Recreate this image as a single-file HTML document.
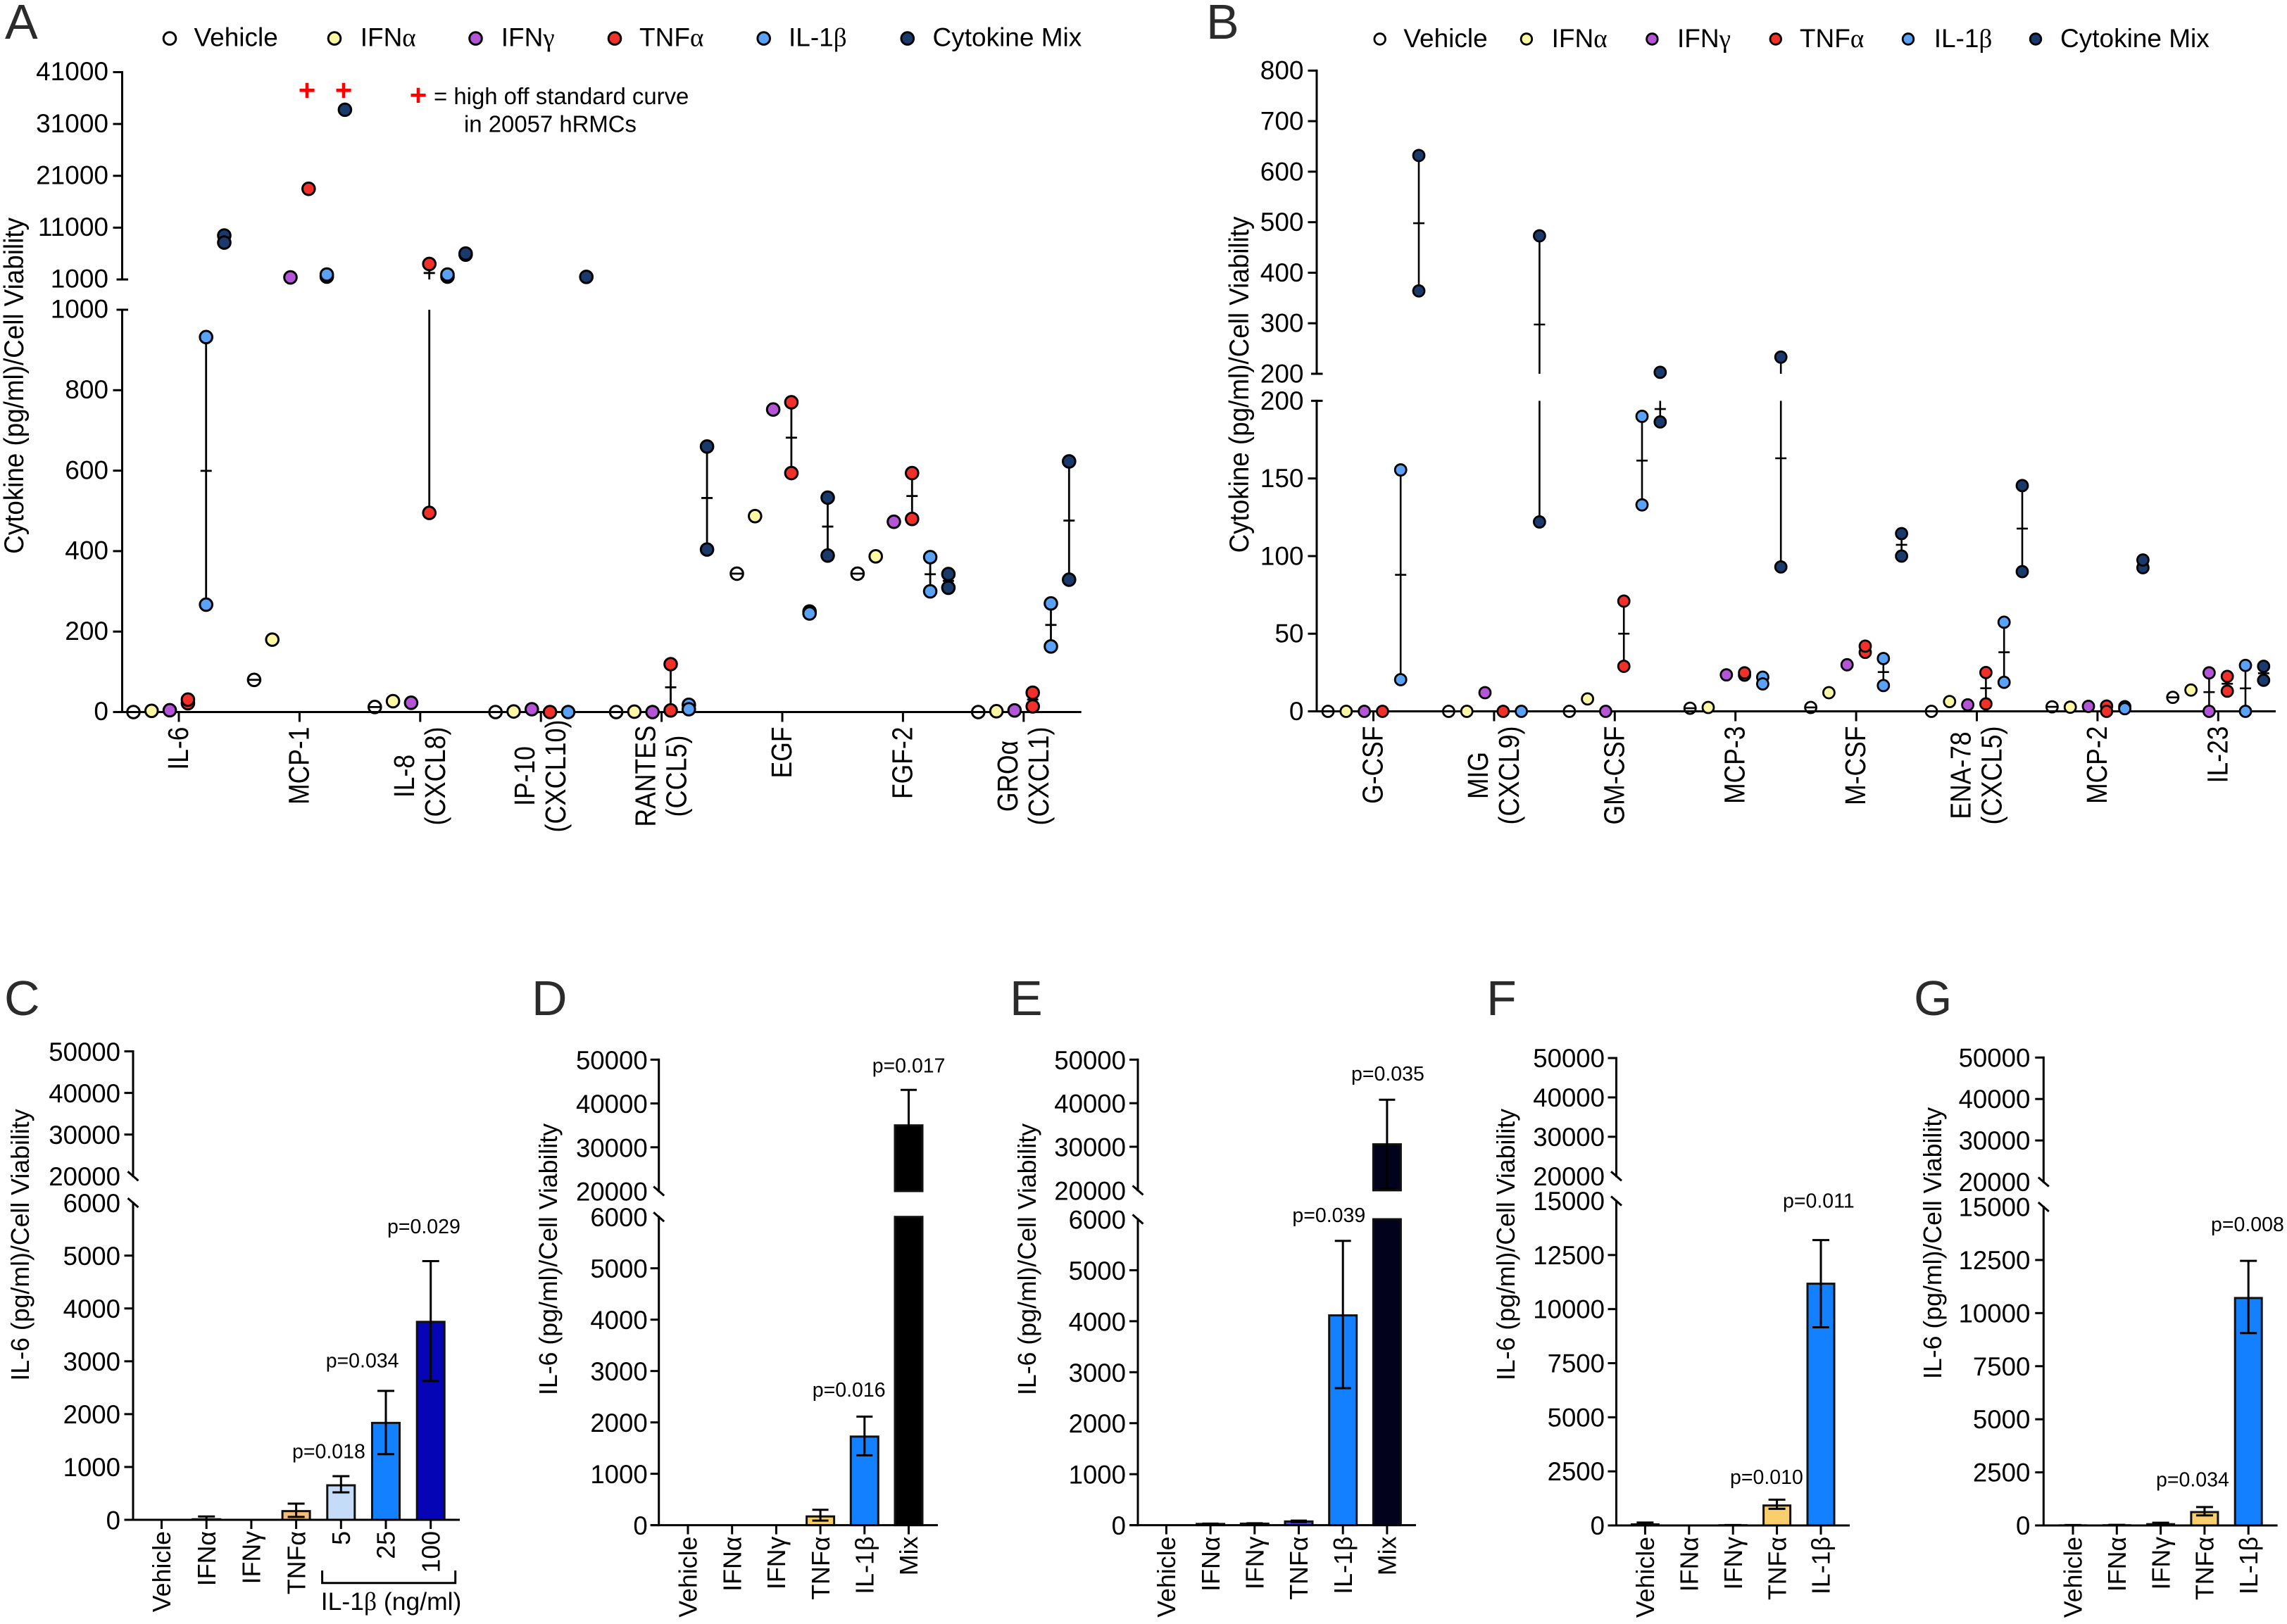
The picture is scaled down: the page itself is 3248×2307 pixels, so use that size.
<!DOCTYPE html>
<html lang="en">
<head>
<meta charset="utf-8">
<title>Cytokine secretion panels A-G</title>
<style>
html,body{margin:0;padding:0;background:#fff;}
svg{display:block;font-family:"Liberation Sans",sans-serif;fill:#000;}
.letter{font-size:70px;fill:#2b2b2b;}
.leg{font-size:37px;}
.ser{font-family:"Liberation Serif",serif;}
.ytitle{font-size:36.8px;text-anchor:middle;}
.ytitle2{font-size:35.7px;text-anchor:middle;}
.pval{font-size:28.5px;}
.note{font-size:32.9px;}
.plus{font-size:42px;font-weight:bold;fill:#f00;text-anchor:middle;}
</style>
</head>
<body>
<svg id="figure" xmlns="http://www.w3.org/2000/svg" width="3248" height="2307" viewBox="0 0 3248 2307">
<rect x="0" y="0" width="3248" height="2307" fill="#fff"/>

<text class="letter" x="7" y="55">A</text>
<text class="letter" x="1713" y="55">B</text>
<text class="letter" x="6" y="1442">C</text>
<text class="letter" x="755" y="1442">D</text>
<text class="letter" x="1434" y="1442">E</text>
<text class="letter" x="2111" y="1442">F</text>
<text class="letter" x="2718" y="1442">G</text>

<g>
  <circle cx="241" cy="54.6" r="8.8" fill="none" stroke="#000" stroke-width="3"/>
  <text class="leg" x="275.5" y="65.5">Vehicle</text>
  <circle cx="475" cy="54.6" r="8.8" fill="#fdf8a4" stroke="#000" stroke-width="3"/>
  <text class="leg" x="511.7" y="65.5">IFN<tspan class="ser">α</tspan></text>
  <circle cx="675.5" cy="54.6" r="8.8" fill="#b455d8" stroke="#000" stroke-width="3"/>
  <text class="leg" x="711.7" y="65.5">IFN<tspan class="ser">γ</tspan></text>
  <circle cx="873" cy="54.6" r="8.8" fill="#f2302a" stroke="#000" stroke-width="3"/>
  <text class="leg" x="908" y="65.5">TNF<tspan class="ser">α</tspan></text>
  <circle cx="1084.7" cy="54.6" r="8.8" fill="#5aa2f8" stroke="#000" stroke-width="3"/>
  <text class="leg" x="1120" y="65.5">IL-1<tspan class="ser">β</tspan></text>
  <circle cx="1288.8" cy="54.6" r="8.8" fill="#1a3a6b" stroke="#000" stroke-width="3"/>
  <text class="leg" x="1324.5" y="65.5">Cytokine Mix</text>
</g>

<g>
  <circle cx="1959.7" cy="55.5" r="7.8" fill="none" stroke="#000" stroke-width="2.8"/>
  <text class="leg" x="1993.4" y="67">Vehicle</text>
  <circle cx="2167.9" cy="55.5" r="7.8" fill="#fdf8a4" stroke="#000" stroke-width="2.8"/>
  <text class="leg" x="2203.6" y="67">IFN<tspan class="ser">α</tspan></text>
  <circle cx="2346.4" cy="55.5" r="7.8" fill="#b455d8" stroke="#000" stroke-width="2.8"/>
  <text class="leg" x="2382" y="67">IFN<tspan class="ser">γ</tspan></text>
  <circle cx="2521.8" cy="55.5" r="7.8" fill="#f2302a" stroke="#000" stroke-width="2.8"/>
  <text class="leg" x="2555.9" y="67">TNF<tspan class="ser">α</tspan></text>
  <circle cx="2710" cy="55.5" r="7.8" fill="#5aa2f8" stroke="#000" stroke-width="2.8"/>
  <text class="leg" x="2746.7" y="67">IL-1<tspan class="ser">β</tspan></text>
  <circle cx="2891" cy="55.5" r="7.8" fill="#1a3a6b" stroke="#000" stroke-width="2.8"/>
  <text class="leg" x="2926" y="67">Cytokine Mix</text>
</g>

<text class="ytitle" transform="translate(33,548) rotate(-90) scale(1,1.06)">Cytokine (pg/ml)/Cell Viability</text>
<text class="ytitle" transform="translate(1773,546.5) rotate(-90) scale(1,1.06)">Cytokine (pg/ml)/Cell Viability</text>
<text class="ytitle2" transform="translate(41,1768.5) rotate(-90)">IL-6 (pg/ml)/Cell Viability</text>
<text class="ytitle2" transform="translate(791,1789) rotate(-90)">IL-6 (pg/ml)/Cell Viability</text>
<text class="ytitle2" transform="translate(1471,1789) rotate(-90)">IL-6 (pg/ml)/Cell Viability</text>
<text class="ytitle2" transform="translate(2151,1768) rotate(-90)">IL-6 (pg/ml)/Cell Viability</text>
<text class="ytitle2" transform="translate(2757,1766) rotate(-90)">IL-6 (pg/ml)/Cell Viability</text>

<g id="panel-a"></g>
<g id="panel-b"></g>
<g id="panel-c"></g>
<g id="panel-d"></g>
<g id="panel-e"></g>
<g id="panel-f"></g>
<g id="panel-g"></g>

<g>
  <text class="plus" x="436" y="142.5">+</text>
  <text class="plus" x="488" y="142.5">+</text>
  <text class="plus" x="594" y="149.5">+</text>
  <text class="note" x="616" y="148">= high off standard curve</text>
  <text class="note" x="659" y="187.5">in 20057 hRMCs</text>
</g>

<g>
  <text class="pval" x="415" y="2071.5">p=0.018</text>
  <text class="pval" x="462.7" y="1942.6">p=0.034</text>
  <text class="pval" x="550" y="1752">p=0.029</text>
  <text class="pval" x="1238.7" y="1523.6">p=0.017</text>
  <text class="pval" x="1153.8" y="1984">p=0.016</text>
  <text class="pval" x="1919" y="1535">p=0.035</text>
  <text class="pval" x="1835.4" y="1736">p=0.039</text>
  <text class="pval" x="2532" y="1715.7">p=0.011</text>
  <text class="pval" x="2457" y="2108">p=0.010</text>
  <text class="pval" x="3140" y="1749">p=0.008</text>
  <text class="pval" x="3062" y="2111.6">p=0.034</text>
</g>

<path d="M457.6 2231 V2248.8 H646.7 V2231" fill="none" stroke="#000" stroke-width="3"/>
<text x="455.8" y="2287" font-size="35.5">IL-1<tspan class="ser">β</tspan> (ng/ml)</text>

<script>
/* ---------- Panel A data: replicates per cytokine, one array per treatment ---------- */
const panelACategories = [['IL-6'], ['MCP-1'], ['IL-8', '(CXCL8)'], ['IP-10', '(CXCL10)'], ['RANTES', '(CCL5)'], ['EGF'], ['FGF-2'], ['GROα', '(CXCL1)']];
const panelALowTicks = [0, 200, 400, 600, 800, 1000];
const panelAHighTicks = [1000, 11000, 21000, 31000, 41000];
const panelAVehicle = [[0], [80], [12.5], [0], [0], [344], [344], [0]];
const panelAIfnAlpha = [[3], [180], [27], [1.5], [1], [487], [387], [2]];
const panelAIfnGamma = [[4.4], [1400], [23], [7], [0], [752], [473], [4]];
const panelATnfAlpha = [[22, 31], [18500], [495, 4000], [0], [4, 119], [594, 770], [480, 594], [14, 48]];
const panelAIl1Beta = [[267, 932], [1550, 1950], [1550, 1950], [0], [18, 7], [250, 245], [300, 385], [163, 270]];
const panelAMix = [[9478, 8120], [33750], [5800, 6000], [1500], [404, 660], [389, 533], [309, 343], [329, 623]];

/* ---------- Panel B data ---------- */
const panelBCategories = [['G-CSF'], ['MIG', '(CXCL9)'], ['GM-CSF'], ['MCP-3'], ['M-CSF'], ['ENA-78', '(CXCL5)'], ['MCP-2'], ['IL-23']];
const panelBLowTicks = [0, 50, 100, 150, 200];
const panelBHighTicks = [200, 300, 400, 500, 600, 700, 800];
const panelBVehicle = [[0], [0], [0], [2], [2.5], [0], [2.9], [9]];
const panelBIfnAlpha = [[0], [0], [8], [2.5], [12], [6.3], [2.7], [13.7]];
const panelBIfnGamma = [[0], [12], [0], [23.5], [30], [4.2], [3.2], [0, 24.8]];
const panelBTnfAlpha = [[0], [0], [29, 71], [23.3, 24.8], [38, 42], [4.8, 25], [3.4, 0], [13, 22.5]];
const panelBIl1Beta = [[20.4, 155.5], [0], [133, 190], [22, 17.7], [16.6, 34], [18.7, 57.4], [3, 1.7], [0, 29.6]];
const panelBMix = [[364, 632], [122, 473], [186.4, 203], [93, 233], [100, 114.5], [90, 145.4], [92.5, 97.5], [20, 29]];

/* ---------- Panel C data ---------- */
const panelCCategories = ['Vehicle', 'IFNα', 'IFNγ', 'TNFα', '5', '25', '100'];
const panelCMeans = [0, 10, 0, 165, 653, 1834, 3746];
const panelCErrUpper = [0, 63, 0, 307, 826, 2440, 4895];
const panelCErrLower = [0, 0, 0, 55, 519, 1243, 2628];
const panelCLowTicks = [0, 1000, 2000, 3000, 4000, 5000, 6000];
const panelCHighTicks = [20000, 30000, 40000, 50000];

/* ---------- Panel D data ---------- */
const panelDCategories = ['Vehicle', 'IFNα', 'IFNγ', 'TNFα', 'IL-1β', 'Mix'];
const panelDMeans = [0, 0, 0, 170, 1724, 35000];
const panelDErrUpper = [0, 0, 0, 300, 2113, 43100];
const panelDErrLower = [0, 0, 0, 89, 1360, 27000];
const panelDLowTicks = [0, 1000, 2000, 3000, 4000, 5000, 6000];
const panelDHighTicks = [20000, 30000, 40000, 50000];

/* ---------- Panel E data ---------- */
const panelECategories = ['Vehicle', 'IFNα', 'IFNγ', 'TNFα', 'IL-1β', 'Mix'];
const panelEMeans = [0, 24, 30, 73, 4114, 30560];
const panelEErrUpper = [0, 30, 38, 90, 5575, 40800];
const panelEErrLower = [0, 20, 24, 60, 2686, 20400];
const panelELowTicks = [0, 1000, 2000, 3000, 4000, 5000, 6000];
const panelEHighTicks = [20000, 30000, 40000, 50000];

/* ---------- Panel F data ---------- */
const panelFCategories = ['Vehicle', 'IFNα', 'IFNγ', 'TNFα', 'IL-1β'];
const panelFMeans = [50, 0, 10, 922, 11174];
const panelFErrUpper = [134, 0, 20, 1190, 13190];
const panelFErrLower = [0, 0, 0, 768, 9158];
const panelFLowTicks = [0, 2500, 5000, 7500, 10000, 12500, 15000];
const panelFHighTicks = [20000, 30000, 40000, 50000];

/* ---------- Panel G data ---------- */
const panelGCategories = ['Vehicle', 'IFNα', 'IFNγ', 'TNFα', 'IL-1β'];
const panelGMeans = [5, 10, 60, 629, 10710];
const panelGErrUpper = [20, 30, 130, 865, 12458];
const panelGErrLower = [0, 0, 10, 472, 9059];
const panelGLowTicks = [0, 2500, 5000, 7500, 10000, 12500, 15000];
const panelGHighTicks = [20000, 30000, 40000, 50000];

/* ---------- Styling and axis calibration (kept apart from the data) ---------- */
const treatmentNames = ['vehicle', 'ifn-alpha', 'ifn-gamma', 'tnf-alpha', 'il-1-beta', 'cytokine-mix'];
const treatmentFills = ['none', '#fdf8a4', '#b455d8', '#f2302a', '#5aa2f8', '#1a3a6b'];
const panelCFills = ['#fff', '#f3bd7b', '#fff', '#f3bd7b', '#c5dcf8', '#1380ff', '#0505b5'];
const panelDFills = ['#fff', '#fff', '#fff', '#f8cf63', '#1380ff', '#000'];
const panelEFills = ['#fff', '#4a4ae6', '#4a4ae6', '#4a4ae6', '#1380ff', '#02021c'];
const panelFFills = ['#fff', '#fff', '#fff', '#f9cf6e', '#1380ff'];
const panelGFills = ['#fff', '#fff', '#fff', '#f9cf6e', '#1380ff'];

const layoutA = {prefix: 'a', axisX: 173.5, xEnd: 1535.7, tickLen: 13, labelGap: 19.5, labelDy: 11.7, lineW: 3,
  low: {v0: 0, y0: 1011.5, v1: 1000, y1: 440}, high: {v0: 1000, y0: 397, v1: 41000, y1: 102.5},
  firstX: 254, stepX: 171.4, seriesStep: 25.8, r: 8.8, markerW: 3, capHalf: 8, errW: 2.8, tickFont: 37};
const layoutB = {prefix: 'b', axisX: 1870, xEnd: 3232, tickLen: 12.5, labelGap: 18.5, labelDy: 12.4, lineW: 3,
  low: {v0: 0, y0: 1010.5, v1: 200, y1: 569.4}, high: {v0: 200, y0: 531, v1: 800, y1: 100.3},
  firstX: 1950.5, stepX: 171.4, seriesStep: 25.8, r: 8, markerW: 2.8, capHalf: 8, errW: 2.6, tickFont: 37};
const layoutC = {prefix: 'c', axisX: 189, xEnd: 653, tickLen: 12.5, labelGap: 18, labelDy: 13.3, lineW: 3,
  low: {v0: 0, y0: 2159, v1: 6000, y1: 1708.6}, high: {v0: 20000, y0: 1670.8, v1: 50000, y1: 1493.5},
  firstX: 229.5, stepX: 63.7, barHalf: 19.5, capHalf: 12, tickFont: 36.6};
const layoutD = {prefix: 'd', axisX: 935.7, xEnd: 1332, tickLen: 12, labelGap: 16, labelDy: 13.5, lineW: 3,
  low: {v0: 0, y0: 2166.6, v1: 6000, y1: 1728.7}, high: {v0: 20000, y0: 1692, v1: 50000, y1: 1505.3},
  firstX: 977, stepX: 62.7, barHalf: 19.5, capHalf: 11.5, tickFont: 36.6};
const layoutE = {prefix: 'e', axisX: 1616, xEnd: 2011, tickLen: 12, labelGap: 17, labelDy: 13.5, lineW: 3,
  low: {v0: 0, y0: 2166.6, v1: 6000, y1: 1732}, high: {v0: 20000, y0: 1690.9, v1: 50000, y1: 1505.3},
  firstX: 1656.4, stepX: 62.7, barHalf: 19.5, capHalf: 11.5, tickFont: 36.6};
const layoutF = {prefix: 'f', axisX: 2295.5, xEnd: 2627, tickLen: 12, labelGap: 16.5, labelDy: 13, lineW: 3,
  low: {v0: 0, y0: 2167, v1: 15000, y1: 1706}, high: {v0: 20000, y0: 1670.8, v1: 50000, y1: 1503},
  firstX: 2336.4, stepX: 62.4, barHalf: 19, capHalf: 12, tickFont: 36.6};
const layoutG = {prefix: 'g', axisX: 2902.3, xEnd: 3234.6, tickLen: 12, labelGap: 19, labelDy: 13, lineW: 3,
  low: {v0: 0, y0: 2167, v1: 15000, y1: 1714.5}, high: {v0: 20000, y0: 1679, v1: 50000, y1: 1502.3},
  firstX: 2944, stepX: 62.3, barHalf: 19, capHalf: 12, tickFont: 36.6};

/* ---------- Low-level SVG helpers ---------- */
const SVG_NS = 'http://www.w3.org/2000/svg';
function make(tag, parent, attrs) {
  const el = document.createElementNS(SVG_NS, tag);
  for (const key of Object.keys(attrs)) el.setAttribute(key, attrs[key]);
  parent.appendChild(el);
  return el;
}
function drawLine(parent, name, x1, y1, x2, y2, width) {
  const el = make('line', parent, {x1: x1, y1: y1, x2: x2, y2: y2, stroke: '#000', 'stroke-width': width});
  
  
  return el;
}
function drawLabel(parent, name, x, y, content, size, anchor) {
  const el = make('text', parent, {x: x, y: y, 'font-size': size, 'text-anchor': anchor});
  el.textContent = content;
  
  
  return el;
}
function drawRotatedLabel(parent, name, x, y, content, size, anchor, cross) {
  const el = make('text', parent, {
    'font-size': size, 'text-anchor': anchor,
    transform: 'translate(' + x + ',' + y + ') rotate(-90) scale(1,' + cross + ')'
  });
  el.textContent = content;
  
  
  return el;
}

/* ---------- Axis functions ---------- */
function lerp(cal, v) {
  return cal.y0 + (v - cal.v0) * (cal.y1 - cal.y0) / (cal.v1 - cal.v0);
}
function makeYScale(layout) {
  return function (v) {
    return v <= layout.low.v1 ? lerp(layout.low, v) : lerp(layout.high, v);
  };
}
function categoryX(layout, i) {
  return layout.firstX + i * layout.stepX;
}
function seriesX(layout, i, s) {
  return categoryX(layout, i) + (s - 2.5) * layout.seriesStep;
}
function drawYAxis(g, layout, lowTicks, highTicks, breakStyle) {
  const y = makeYScale(layout);
  const x = layout.axisX;
  const p = layout.prefix;
  drawLine(g, 'y-axis-lower-' + p, x, layout.low.y0 + 1.5, x, layout.low.y1 - 1.5, layout.lineW);
  drawLine(g, 'y-axis-upper-' + p, x, layout.high.y0 + 1.5, x, layout.high.y1 - 1.5, layout.lineW);
  lowTicks.forEach(function (t) {
    const ty = lerp(layout.low, t);
    const isBreak = t === layout.low.v1;
    if (isBreak && breakStyle === 'flat') {
      drawLine(g, 'y-tick-' + p + '-lower-' + t, x - 8, ty, x + 8.5, ty, layout.lineW);
    } else if (isBreak) {
      drawLine(g, 'axis-break-mark-lower-' + p, x - 7.5, ty - 6.5, x + 7.5, ty + 6.5, layout.lineW);
    } else {
      drawLine(g, 'y-tick-' + p + '-lower-' + t, x - layout.tickLen, ty, x, ty, layout.lineW);
    }
    drawLabel(g, 'y-tick-label-' + p + '-lower-' + t, x - layout.labelGap, ty + layout.labelDy, String(t), layout.tickFont, 'end');
  });
  highTicks.forEach(function (t) {
    const ty = lerp(layout.high, t);
    const isBreak = t === layout.high.v0;
    if (isBreak && breakStyle === 'flat') {
      drawLine(g, 'y-tick-' + p + '-upper-' + t, x - 8, ty, x + 8.5, ty, layout.lineW);
    } else if (isBreak) {
      drawLine(g, 'axis-break-mark-upper-' + p, x - 7.5, ty - 6.5, x + 7.5, ty + 6.5, layout.lineW);
    } else {
      drawLine(g, 'y-tick-' + p + '-upper-' + t, x - layout.tickLen, ty, x, ty, layout.lineW);
    }
    drawLabel(g, 'y-tick-label-' + p + '-upper-' + t, x - layout.labelGap, ty + layout.labelDy, String(t), layout.tickFont, 'end');
  });
  return y;
}
function drawXBaseline(g, layout) {
  const y0 = lerp(layout.low, 0);
  drawLine(g, 'x-axis-' + layout.prefix, layout.axisX - layout.tickLen, y0, layout.xEnd, y0, layout.lineW);
  return y0;
}
/* Draws a vertical span between two values, splitting it over the axis break. */
function drawSpan(g, name, layout, y, x, a, b, width) {
  const lo = Math.min(a, b);
  const hi = Math.max(a, b);
  if (lo === hi) return;
  const brk = layout.low.v1;
  if (lo <= brk && hi > brk) {
    drawLine(g, name + '-lower', x, y(lo), x, lerp(layout.low, brk), width);
    if (hi > layout.high.v0) drawLine(g, name + '-upper', x, lerp(layout.high, layout.high.v0), x, y(hi), width);
  } else {
    drawLine(g, name, x, y(lo), x, y(hi), width);
  }
}

/* ---------- Dot panels ---------- */
function mean(values) {
  return values.reduce(function (a, b) { return a + b; }, 0) / values.length;
}
function drawDotPanel(g, layout, categories, lowTicks, highTicks, seriesValues) {
  const y = drawYAxis(g, layout, lowTicks, highTicks, 'flat');
  const y0 = drawXBaseline(g, layout);
  categories.forEach(function (lines, i) {
    const cx = categoryX(layout, i);
    const slug = lines[0].toLowerCase().replace(/[^a-z0-9]+/g, '-');
    drawLine(g, 'x-tick-' + slug, cx, y0, cx, y0 + 14, layout.lineW);
    if (lines.length === 1) {
      drawRotatedLabel(g, 'x-label-' + slug, cx + 13, y0 + 21, lines[0], 35.5, 'end', 1.14);
    } else {
      drawRotatedLabel(g, 'x-label-' + slug, cx - 9, y0 + 91, lines[0], 35.5, 'middle', 1.14);
      drawRotatedLabel(g, 'x-label-' + slug + '-alias', cx + 35, y0 + 91, lines[1], 36, 'middle', 1.14);
    }
  });
  seriesValues.forEach(function (series, s) {
    series.forEach(function (replicates, i) {
      const px = seriesX(layout, i, s);
      const base = treatmentNames[s] + '-' + layout.prefix + '-' + i;
      if (replicates.length > 1) {
        drawSpan(g, 'error-line-' + base, layout, y, px, Math.min.apply(null, replicates), Math.max.apply(null, replicates), layout.errW);
      }
      const my = y(mean(replicates));
      drawLine(g, 'mean-cap-' + base, px - layout.capHalf, my, px + layout.capHalf, my, layout.errW);
      replicates.forEach(function (v, k) {
        const dot = make('circle', g, {
          cx: px, cy: y(v), r: layout.r,
          fill: treatmentFills[s], stroke: '#000', 'stroke-width': layout.markerW
        });
        
        
      });
    });
  });
}

/* ---------- Bar panels ---------- */
function drawBarRect(g, name, x, yTop, yBottom, halfWidth, fill) {
  const el = make('rect', g, {
    x: x - halfWidth, y: yTop, width: halfWidth * 2, height: Math.max(0, yBottom - yTop),
    fill: fill, stroke: '#111', 'stroke-width': 3
  });
  
  
  return el;
}
function drawBarPanel(g, layout, categories, means, errUpper, errLower, fills, lowTicks, highTicks) {
  const y = makeYScale(layout);
  const y0 = lerp(layout.low, 0);
  means.forEach(function (v, i) {
    const cx = categoryX(layout, i);
    const name = 'bar-' + layout.prefix + '-' + i;
    if (v <= 0) return;
    if (v > layout.low.v1) {
      drawBarRect(g, name + '-lower', cx, lerp(layout.low, layout.low.v1), y0, layout.barHalf, fills[i]);
      drawBarRect(g, name + '-upper', cx, y(v), lerp(layout.high, layout.high.v0), layout.barHalf, fills[i]);
    } else {
      drawBarRect(g, name, cx, y(v), y0, layout.barHalf, fills[i]);
    }
  });
  drawYAxis(g, layout, lowTicks, highTicks, 'slash');
  drawXBaseline(g, layout);
  categories.forEach(function (label, i) {
    const cx = categoryX(layout, i);
    const slug = layout.prefix + '-' + i;
    drawLine(g, 'x-tick-' + slug, cx, y0, cx, y0 + 13, layout.lineW);
    drawRotatedLabel(g, 'x-label-' + slug, cx + 12.7, y0 + 16, label, 35.7, 'end', 1);
    if (errUpper[i] > errLower[i]) {
      drawSpan(g, 'error-line-' + slug, layout, y, cx, errLower[i], errUpper[i], 3);
      const top = y(errUpper[i]);
      const bottom = y(errLower[i]);
      drawLine(g, 'error-cap-upper-' + slug, cx - layout.capHalf, top, cx + layout.capHalf, top, 3);
      drawLine(g, 'error-cap-lower-' + slug, cx - layout.capHalf, bottom, cx + layout.capHalf, bottom, 3);
    }
  });
}

/* ---------- Render ---------- */
drawDotPanel(document.getElementById('panel-a'), layoutA, panelACategories, panelALowTicks, panelAHighTicks,
  [panelAVehicle, panelAIfnAlpha, panelAIfnGamma, panelATnfAlpha, panelAIl1Beta, panelAMix]);
drawDotPanel(document.getElementById('panel-b'), layoutB, panelBCategories, panelBLowTicks, panelBHighTicks,
  [panelBVehicle, panelBIfnAlpha, panelBIfnGamma, panelBTnfAlpha, panelBIl1Beta, panelBMix]);
drawBarPanel(document.getElementById('panel-c'), layoutC, panelCCategories, panelCMeans, panelCErrUpper, panelCErrLower, panelCFills, panelCLowTicks, panelCHighTicks);
drawBarPanel(document.getElementById('panel-d'), layoutD, panelDCategories, panelDMeans, panelDErrUpper, panelDErrLower, panelDFills, panelDLowTicks, panelDHighTicks);
drawBarPanel(document.getElementById('panel-e'), layoutE, panelECategories, panelEMeans, panelEErrUpper, panelEErrLower, panelEFills, panelELowTicks, panelEHighTicks);
drawBarPanel(document.getElementById('panel-f'), layoutF, panelFCategories, panelFMeans, panelFErrUpper, panelFErrLower, panelFFills, panelFLowTicks, panelFHighTicks);
drawBarPanel(document.getElementById('panel-g'), layoutG, panelGCategories, panelGMeans, panelGErrUpper, panelGErrLower, panelGFills, panelGLowTicks, panelGHighTicks);
</script>
</svg>
</body>
</html>
